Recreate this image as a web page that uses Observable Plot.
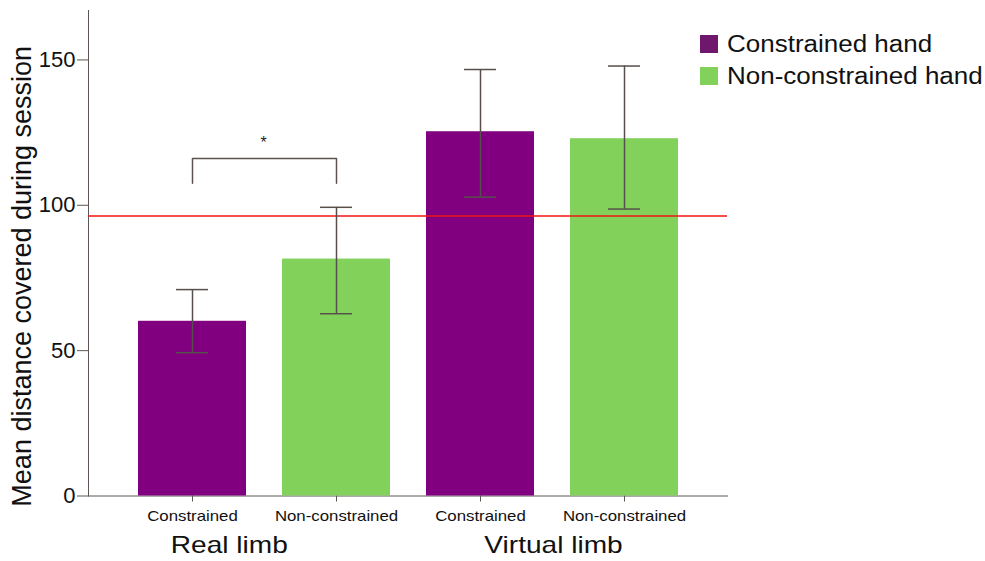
<!DOCTYPE html>
<html>
<head>
<meta charset="utf-8">
<script src="https://cdn.jsdelivr.net/npm/d3@7"></script>
<script src="https://cdn.jsdelivr.net/npm/@observablehq/plot@0.6"></script>
<style>
  html, body { margin: 0; padding: 0; background: #fff; }
  #wrap { position: relative; width: 985px; height: 561px; font-family: "Liberation Sans", Arial, sans-serif; }
  #legend { position: absolute; left: 700px; top: 28px; font-size: 23px; color: #111; }
  #legend .item { display: flex; align-items: center; height: 32px; }
  #legend .sw { width: 18px; height: 18px; margin-right: 9px; flex: none; }
  #legend span { display: inline-block; transform: scaleX(1.13); transform-origin: left center; white-space: nowrap; }
</style>
</head>
<body>
<div id="wrap"><div id="legend"></div></div>
<script>
// Bars: one per limb condition and hand
const keys = ["real-constrained", "real-non", "virtual-constrained", "virtual-non"];
const categories = ["Constrained", "Non-constrained", "Constrained", "Non-constrained"];
const hands = ["Constrained hand", "Non-constrained hand", "Constrained hand", "Non-constrained hand"];
const groups = ["Real limb", "Virtual limb"];
const means = [60.1, 81.5, 125.3, 122.9];
const lower = [49.3, 62.7, 102.8, 98.7];
const upper = [71.0, 99.3, 146.7, 147.9];
const yTicks = [0, 50, 100, 150];
const referenceLevel = 96.3;
// Significance bracket between the two real-limb bars
const bracketKeys = [keys[0], keys[1]];
const bracketTop = 116.1;
const bracketFoot = 107.6;
const bracketLabel = "*";
const yTitle = "Mean distance covered during session";

const legendHands = ["Constrained hand", "Non-constrained hand"];
const barColors = ["#800080", "#82d15a"];
const legendColors = ["#6e176d", "#82d15a"];
const axisColor = "#5e5652";
const errColor = "#574f4b";

const rows = keys.map((k, i) => ({key: k, label: categories[i], hand: hands[i], mean: means[i], lo: lower[i], hi: upper[i]}));
const labelOf = new Map(keys.map((k, i) => [k, categories[i]]));
const bracket = [
  {key: bracketKeys[0], y: bracketFoot},
  {key: bracketKeys[0], y: bracketTop},
  {key: bracketKeys[1], y: bracketTop},
  {key: bracketKeys[1], y: bracketFoot}
];

const chart = Plot.plot({
  width: 985,
  height: 561,
  marginLeft: 88,
  marginRight: 258,
  marginTop: 10,
  marginBottom: 65.5,
  style: {fontFamily: "'Liberation Sans', Arial, sans-serif", background: "transparent", color: axisColor},
  x: {domain: keys, paddingInner: 0.252, paddingOuter: 0.33, tickFormat: k => labelOf.get(k), tickSize: 6, tickPadding: 8, line: true, label: null},
  y: {domain: [0, 167], ticks: yTicks, tickSize: 11, tickPadding: 2, line: true, label: null},
  color: {domain: legendHands, range: barColors},
  marks: [
    Plot.barY(rows, {x: "key", y: "mean", fill: "hand"}),
    Plot.ruleY([referenceLevel], {stroke: "#f21414", strokeWidth: 1.5}),
    Plot.ruleX(rows, {x: "key", y1: "lo", y2: "hi", stroke: errColor, strokeWidth: 1.5}),
    Plot.tickY(rows, {x: "key", y: "lo", stroke: errColor, strokeWidth: 1.5, insetLeft: 38, insetRight: 38}),
    Plot.tickY(rows, {x: "key", y: "hi", stroke: errColor, strokeWidth: 1.5, insetLeft: 38, insetRight: 38}),
    Plot.line(bracket, {x: "key", y: "y", stroke: "#5a5350", strokeWidth: 1.5}),
    Plot.text([bracketLabel], {x: () => bracketKeys[0], y: () => bracketTop, dx: 71, dy: -16, fontSize: 16, fill: "#222"}),
    Plot.text([groups[0]], {x: () => keys[0], frameAnchor: "bottom", lineAnchor: "middle", dx: 36.8, dy: 49, fontSize: 24, fill: "#111"}),
    Plot.text([groups[1]], {x: () => keys[2], frameAnchor: "bottom", lineAnchor: "middle", dx: 73, dy: 49, fontSize: 24, fill: "#111"}),
    Plot.text([yTitle], {frameAnchor: "left", textAnchor: "middle", rotate: -90, dx: -66, dy: 23, fontSize: 27, fill: "#111"})
  ]
});

document.getElementById("wrap").prepend(chart);

// Tick label sizes differ between the two axes
const svg = d3.select(chart);
svg.selectAll('[aria-label="y-axis"] text, [aria-label="y-axis tick label"] text')
  .attr("font-size", 22).attr("fill", "#111");
const xLabels = svg.selectAll('[aria-label="x-axis"] text, [aria-label="x-axis tick label"] text')
  .attr("font-size", 15).attr("fill", "#111");

// Horizontally widened lettering for the category and group labels
function widen(sel, k) {
  sel.each(function() {
    const w = this.getComputedTextLength();
    this.setAttribute("textLength", w * k);
    this.setAttribute("lengthAdjust", "spacingAndGlyphs");
  });
}
widen(xLabels, 1.12);
widen(svg.selectAll("text").filter(function() { return groups.includes(this.textContent); }), 1.17);

const legend = d3.select("#legend");
legendHands.forEach((h, i) => {
  const item = legend.append("div").attr("class", "item");
  item.append("div").attr("class", "sw").style("background", legendColors[i]);
  item.append("span").text(h);
});
</script>
</body>
</html>
